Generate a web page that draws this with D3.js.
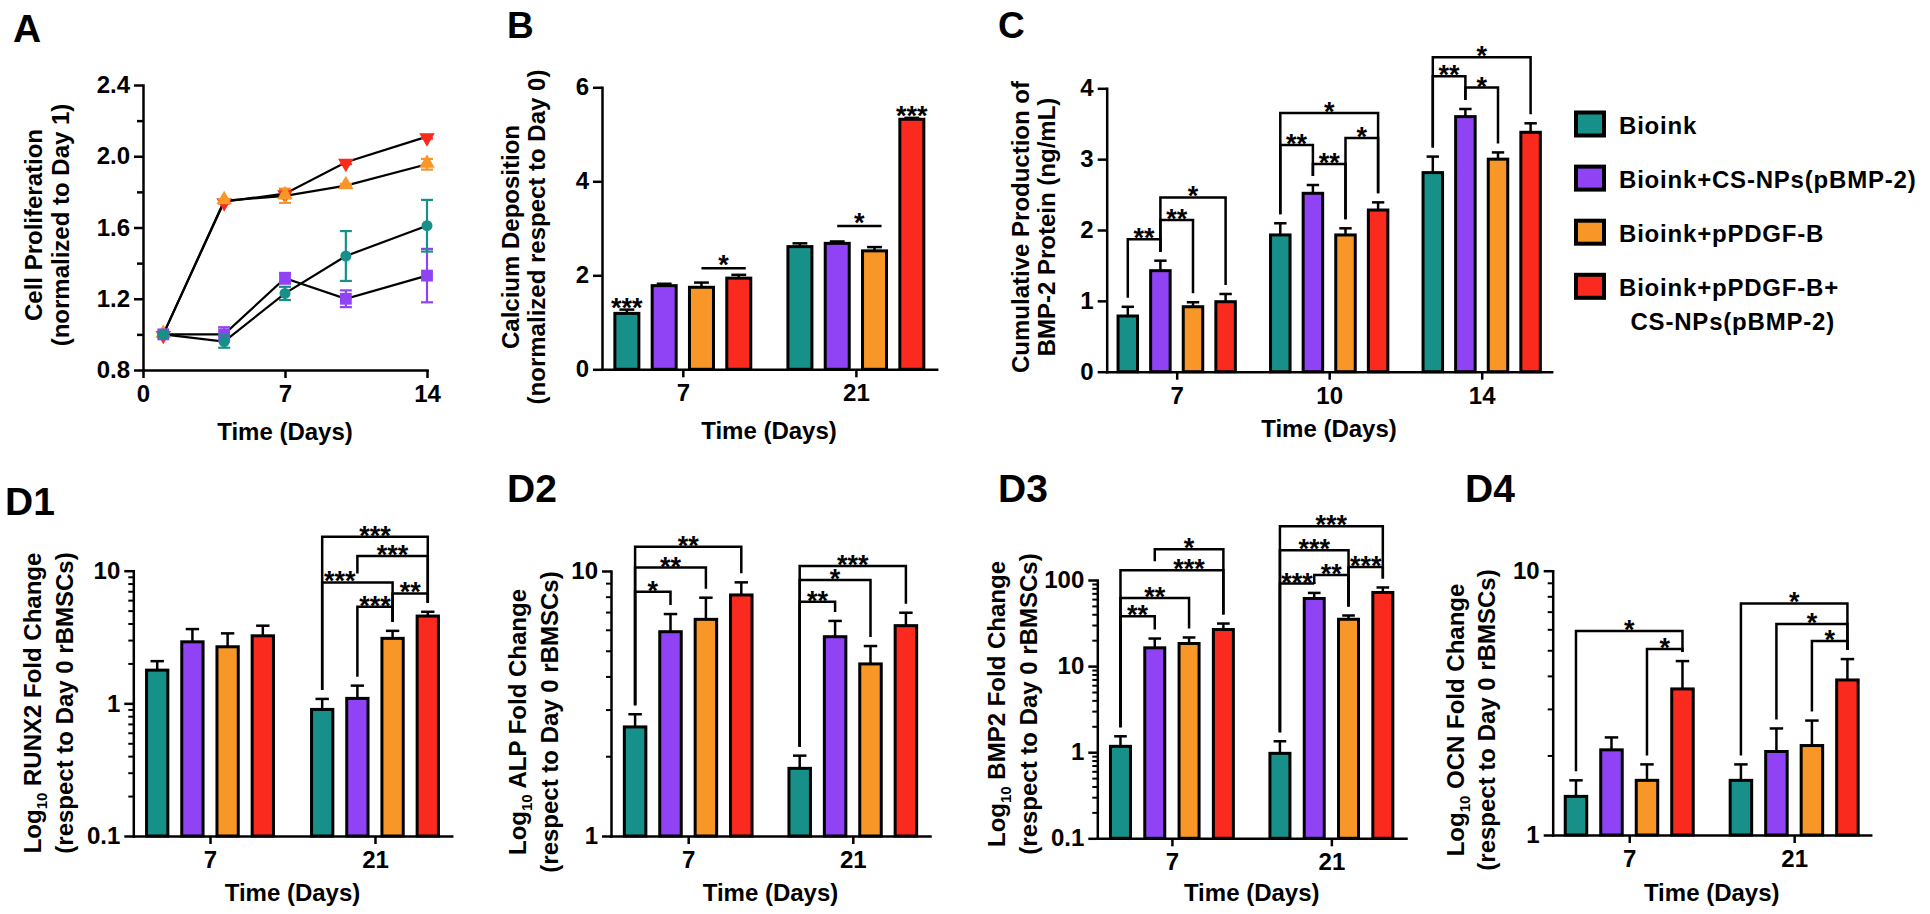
<!DOCTYPE html>
<html><head><meta charset="utf-8">
<script src="https://cdn.jsdelivr.net/npm/d3@7"></script>
<style>
body{margin:0;background:#fff;}
svg text{font-family:"Liberation Sans",Arial,Helvetica,sans-serif;font-weight:bold;fill:#000;}
</style></head><body>
<svg id="fig" width="1930" height="914"></svg>
<script>
// ---------------- DATA ----------------
const seriesNames = ["Bioink", "Bioink+CS-NPs(pBMP-2)", "Bioink+pPDGF-B", "Bioink+pPDGF-B+CS-NPs(pBMP-2)"];
const legendLines = [["Bioink"], ["Bioink+CS-NPs(pBMP-2)"], ["Bioink+pPDGF-B"], ["Bioink+pPDGF-B+", " CS-NPs(pBMP-2)"]];
const seriesColors = ["#179089", "#9043f5", "#f89628", "#fb2a1f"];

// Panel A: cell proliferation (series x day)
const aDays = [1, 4, 7, 10, 14];
const aMeans = [
  [1.00, 0.96, 1.23, 1.44, 1.61],
  [1.00, 1.00, 1.315, 1.20, 1.33],
  [1.00, 1.75, 1.778, 1.835, 1.955],
  [1.00, 1.745, 1.79, 1.966, 2.11]
];
const aErrs = [
  [0.01, 0.035, 0.037, 0.14, 0.145],
  [0.01, 0.04, 0.03, 0.047, 0.15],
  [0.01, 0.01, 0.04, 0.01, 0.03],
  [0.01, 0.01, 0.025, 0.01, 0.01]
];
const aYTicks = [0.8, 1.2, 1.6, 2.0, 2.4];
const aYMinor = [1.0, 1.4, 1.8, 2.2];
const aXTicks = [0, 7, 14];

// Panel B: calcium deposition
const bDays = ["7", "21"];
const bMeans = [[1.19, 2.61], [1.78, 2.68], [1.745, 2.52], [1.94, 5.32]];
const bErrs = [[0.08, 0.07], [0.04, 0.04], [0.10, 0.08], [0.07, 0.03]];
const bYTicks = [0, 2, 4, 6];
const bStars = [{g: 0, s: 0, label: "***"}, {g: 1, s: 3, label: "***"}];
const bLines = [{g: 0, i: 2, j: 3, y: 2.15, label: "*"}, {g: 1, i: 1, j: 2, y: 3.05, label: "*"}];

// Panel C: cumulative BMP-2 production
const cDays = ["7", "10", "14"];
const cMeans = [[0.786, 1.93, 2.81], [1.426, 2.518, 3.60], [0.917, 1.93, 3.00], [0.988, 2.282, 3.379]];
const cErrs = [[0.13, 0.165, 0.226], [0.141, 0.117, 0.108], [0.063, 0.094, 0.095], [0.109, 0.108, 0.127]];
const cYTicks = [0, 1, 2, 3, 4];
const cBrackets = [
  {g: 0, i: 0, j: 1, y: 1.87, label: "**"},
  {g: 0, i: 1, j: 2, y: 2.14, label: "**"},
  {g: 0, i: 1, j: 3, y: 2.46, label: "*"},
  {g: 1, i: 0, j: 1, y: 3.20, label: "**"},
  {g: 1, i: 1, j: 2, y: 2.93, label: "**"},
  {g: 1, i: 2, j: 3, y: 3.30, label: "*"},
  {g: 1, i: 0, j: 3, y: 3.65, label: "*"},
  {g: 2, i: 0, j: 1, y: 4.17, label: "**"},
  {g: 2, i: 1, j: 2, y: 4.01, label: "*"},
  {g: 2, i: 0, j: 3, y: 4.44, label: "*"}
];

// Panels D: gene expression fold change (log scale)
const dDays = ["7", "21"];
const d1Means = [[1.78, 0.90], [2.91, 1.09], [2.67, 3.09], [3.23, 4.55]];
const d1Errs = [[0.30, 0.18], [0.72, 0.27], [0.70, 0.43], [0.62, 0.35]];
const d1Brackets = [
  {g: 1, i: 0, j: 3, y: 18.0, label: "***"},
  {g: 1, i: 1, j: 3, y: 12.9, label: "***"},
  {g: 1, i: 0, j: 2, y: 8.16, label: "***", at: 0.5},
  {g: 1, i: 2, j: 3, y: 6.74, label: "**"},
  {g: 1, i: 1, j: 2, y: 5.35, label: "***"}
];
const d2Means = [[2.58, 1.80], [5.90, 5.65], [6.57, 4.46], [8.12, 6.22]];
const d2Errs = [[0.30, 0.21], [0.98, 0.83], [1.36, 0.75], [0.94, 0.74]];
const d2Brackets = [
  {g: 0, i: 0, j: 1, y: 8.35, label: "*"},
  {g: 0, i: 0, j: 2, y: 10.3, label: "**"},
  {g: 0, i: 0, j: 3, y: 12.35, label: "**"},
  {g: 1, i: 0, j: 1, y: 7.66, label: "**"},
  {g: 1, i: 0, j: 2, y: 9.25, label: "*"},
  {g: 1, i: 0, j: 3, y: 10.44, label: "***"}
];
const d3Means = [[1.17, 0.97], [16.3, 61.0], [18.3, 35.0], [26.6, 71.6]];
const d3Errs = [[0.36, 0.37], [4.6, 9.8], [3.2, 3.7], [4.6, 10.3]];
const d3Brackets = [
  {g: 0, i: 0, j: 1, y: 38, label: "**"},
  {g: 0, i: 0, j: 2, y: 62, label: "**"},
  {g: 0, i: 0, j: 3, y: 130, label: "***", at: 2},
  {g: 0, i: 1, j: 3, y: 228, label: "*"},
  {g: 1, i: 0, j: 3, y: 422, label: "***"},
  {g: 1, i: 0, j: 2, y: 222, label: "***"},
  {g: 1, i: 2, j: 3, y: 142, label: "***"},
  {g: 1, i: 1, j: 2, y: 114, label: "**"},
  {g: 1, i: 0, j: 1, y: 91, label: "***"}
];
const d4Means = [[1.40, 1.61], [2.10, 2.07], [1.61, 2.18], [3.57, 3.86]];
const d4Errs = [[0.21, 0.24], [0.24, 0.46], [0.24, 0.53], [0.98, 0.77]];
const d4Brackets = [
  {g: 0, i: 0, j: 3, y: 5.91, label: "*"},
  {g: 0, i: 2, j: 3, y: 5.06, label: "*"},
  {g: 1, i: 0, j: 3, y: 7.52, label: "*"},
  {g: 1, i: 1, j: 3, y: 6.29, label: "*"},
  {g: 1, i: 2, j: 3, y: 5.42, label: "*"}
];
const logTicks1 = [0.1, 1, 10];
const logTicks2 = [1, 10];
const logTicks3 = [0.1, 1, 10, 100];

// ---------------- DRAWING ----------------
const svg = d3.select("#fig");
const TICKFS = 24, TITLEFS = 24, STARFS = 27;

function minorsBetween(lo, hi) {
  const out = [];
  for (let dec = lo; dec < hi * 0.999; dec *= 10)
    for (let k = 2; k <= 9; k++) out.push(+(dec * k).toPrecision(3));
  return out;
}
function styleAxis(sel) {
  sel.attr("font-size", TICKFS).attr("font-family", null);
  sel.selectAll("path,line").attr("stroke", "#000").attr("stroke-width", 2.5);
  sel.select(".domain").attr("stroke-linecap", "square");
}
function panelLabel(t, x, y, fs) {
  svg.append("text").attr("x", x).attr("y", y).attr("font-size", fs).text(t);
}
function xTitle(cx, by) {
  svg.append("text").attr("x", cx).attr("y", by).attr("text-anchor", "middle").attr("font-size", TITLEFS).text("Time (Days)");
}
function yTitle(lines, bxs, cy) {
  lines.forEach((ln, k) => {
    const t = svg.append("text").attr("transform", `translate(${bxs[k]},${cy}) rotate(-90)`)
      .attr("text-anchor", "middle").attr("font-size", TITLEFS);
    if (typeof ln === "string") t.text(ln);
    else ln.forEach(p => t.append("tspan").attr("font-size", p.size || TITLEFS).attr("dy", p.dy || 0).text(p.t));
  });
}
function starText(sel) {
  return sel.attr("text-anchor", "middle").attr("font-size", STARFS);
}

// ---- Panel A ----
(function () {
  const x = d3.scaleLinear().domain([0, 14]).range([143, 427]);
  const y = d3.scaleLinear().domain([0.8, 2.4]).range([370, 85]);
  const g = svg.append("g");
  const line = d3.line().x((d, i) => x(aDays[i])).y(d => y(d));
  g.selectAll("path.ser").data(aMeans).join("path").attr("class", "ser")
    .attr("d", line).attr("fill", "none").attr("stroke", "#000").attr("stroke-width", 2.2);
  const symbols = [
    d3.symbol().type(d3.symbolCircle).size(95),
    d3.symbol().type(d3.symbolSquare).size(140),
    d3.symbol().type(d3.symbolTriangle).size(105),
    d3.symbol().type(d3.symbolTriangle).size(105)
  ];
  [3, 2, 1, 0].forEach(s => {
    const pts = aDays.map((d, i) => ({d, v: aMeans[s][i], e: aErrs[s][i]}));
    const gs = g.append("g").attr("stroke", seriesColors[s]).attr("stroke-width", 2.2);
    gs.selectAll("line.v").data(pts).join("line").attr("class", "v")
      .attr("x1", p => x(p.d)).attr("x2", p => x(p.d)).attr("y1", p => y(p.v - p.e)).attr("y2", p => y(p.v + p.e));
    gs.selectAll("line.t").data(pts).join("line").attr("class", "t")
      .attr("x1", p => x(p.d) - 6).attr("x2", p => x(p.d) + 6).attr("y1", p => y(p.v + p.e)).attr("y2", p => y(p.v + p.e));
    gs.selectAll("line.b").data(pts).join("line").attr("class", "b")
      .attr("x1", p => x(p.d) - 6).attr("x2", p => x(p.d) + 6).attr("y1", p => y(p.v - p.e)).attr("y2", p => y(p.v - p.e));
    g.selectAll(null).data(pts).join("path")
      .attr("d", symbols[s]).attr("fill", seriesColors[s])
      .attr("transform", p => `translate(${x(p.d)},${y(p.v) + (s === 3 ? 1 : s === 2 ? -1 : 0)})` + (s === 3 ? " rotate(180)" : ""));
  });
  const ya = g.append("g").attr("transform", "translate(143,0)")
    .call(d3.axisLeft(y).tickValues(aYTicks).tickFormat(d3.format(".1f")).tickSize(9).tickSizeOuter(0).tickPadding(4));
  styleAxis(ya);
  const ym = g.append("g").attr("transform", "translate(143,0)")
    .call(d3.axisLeft(y).tickValues(aYMinor).tickFormat("").tickSize(6));
  ym.select(".domain").remove(); styleAxis(ym);
  const xa = g.append("g").attr("transform", "translate(0,370)")
    .call(d3.axisBottom(x).tickValues(aXTicks).tickSize(8).tickSizeOuter(0).tickPadding(7));
  styleAxis(xa);
  panelLabel("A", 13, 42, 39);
  xTitle(285, 440);
  yTitle(["Cell Proliferation", "(normalized to Day 1)"], [42, 69], 225);
})();

// ---- generic bar panel ----
function barPanel(p) {
  const y = (p.log ? d3.scaleLog() : d3.scaleLinear()).domain(p.domain).range([p.yBottom, p.yTop]);
  const x = d3.scalePoint().domain(p.days).range([p.xLeft, p.xRight]).padding(p.pad);
  const bx = (s, gi) => x(p.days[gi]) + (s - 1.5) * p.step;
  const g = svg.append("g");
  const rows = [];
  p.days.forEach((d, gi) => p.means.forEach((m, s) => rows.push({s, gi, v: m[gi], e: p.errs[s][gi]})));
  const cap = p.barW * 0.55;
  const eg = g.append("g").attr("stroke", "#000").attr("stroke-width", 2.5);
  eg.selectAll("line.v").data(rows).join("line").attr("class", "v")
    .attr("x1", r => bx(r.s, r.gi)).attr("x2", r => bx(r.s, r.gi)).attr("y1", r => y(r.v)).attr("y2", r => y(r.v + r.e));
  eg.selectAll("line.c").data(rows).join("line").attr("class", "c")
    .attr("x1", r => bx(r.s, r.gi) - cap / 2).attr("x2", r => bx(r.s, r.gi) + cap / 2)
    .attr("y1", r => y(r.v + r.e)).attr("y2", r => y(r.v + r.e));
  g.selectAll("rect").data(rows).join("rect")
    .attr("x", r => bx(r.s, r.gi) - (p.barW - 3) / 2).attr("width", p.barW - 3)
    .attr("y", r => y(r.v)).attr("height", r => p.yBottom - y(r.v))
    .attr("fill", r => seriesColors[r.s]).attr("stroke", "#000").attr("stroke-width", 3);
  // axes
  const ya = g.append("g").attr("transform", `translate(${p.xLeft},0)`)
    .call(d3.axisLeft(y).tickValues(p.ticks).tickFormat(p.fmt).tickSize(9).tickSizeOuter(0).tickPadding(4));
  styleAxis(ya);
  if (p.minor) {
    const ym = g.append("g").attr("transform", `translate(${p.xLeft},0)`)
      .call(d3.axisLeft(y).tickValues(p.minor).tickFormat("").tickSize(5));
    ym.select(".domain").remove(); styleAxis(ym);
    ym.selectAll("line").attr("stroke-width", 2);
  }
  const xa = g.append("g").attr("transform", `translate(0,${p.yBottom})`)
    .call(d3.axisBottom(x).tickSize(8).tickSizeOuter(0).tickPadding(7));
  styleAxis(xa);
  // brackets
  const gap = 9;
  const items = (p.brackets || []).map(b => Object.assign({}, b, {yl: y(b.y)}));
  const legEnd = (b, k) => {
    let end = y(p.means[k][b.g] + p.errs[k][b.g]) - gap;
    items.forEach(o => {
      if (o !== b && o.g === b.g && o.yl > b.yl && k > o.i && k < o.j) end = Math.min(end, o.yl - gap);
    });
    return Math.max(end, b.yl);
  };
  const bg = g.append("g");
  bg.selectAll("path").data(items).join("path")
    .attr("d", b => `M${bx(b.i, b.g)},${legEnd(b, b.i)}V${b.yl}H${bx(b.j, b.g)}V${legEnd(b, b.j)}`)
    .attr("fill", "none").attr("stroke", "#000").attr("stroke-width", 2.5);
  starText(bg.selectAll("text").data(items).join("text"))
    .attr("x", b => b.at != null ? bx(b.at, b.g) : (bx(b.i, b.g) + bx(b.j, b.g)) / 2)
    .attr("y", b => b.yl + 8).text(b => b.label);
  // simple lines (panel B)
  (p.lines || []).forEach(l => {
    const yl = y(l.y);
    g.append("line").attr("x1", bx(l.i, l.g)).attr("x2", bx(l.j, l.g) + 7).attr("y1", yl).attr("y2", yl)
      .attr("stroke", "#000").attr("stroke-width", 2.5);
    starText(g.append("text")).attr("x", (bx(l.i, l.g) + bx(l.j, l.g) + 7) / 2).attr("y", yl + 6).text(l.label);
  });
  (p.stars || []).forEach(st => {
    const top = y(p.means[st.s][st.g] + p.errs[st.s][st.g]);
    starText(g.append("text")).attr("x", bx(st.s, st.g)).attr("y", top + 7).text(st.label);
  });
}

barPanel({xLeft: 602, xRight: 936.7, yBottom: 369.3, yTop: 87.3, domain: [0, 6], log: false,
  ticks: bYTicks, fmt: d3.format("d"), days: bDays, means: bMeans, errs: bErrs,
  pad: 0.467, step: 37.3, barW: 27, stars: bStars, lines: bLines});
panelLabel("B", 507, 38, 37);
xTitle(769, 439);
yTitle(["Calcium Deposition", "(normalized respect to Day 0)"], [518.7, 545.3], 237);

barPanel({xLeft: 1106.7, xRight: 1551.7, yBottom: 371.7, yTop: 88.3, domain: [0, 4], log: false,
  ticks: cYTicks, fmt: d3.format("d"), days: cDays, means: cMeans, errs: cErrs,
  pad: 0.459, step: 32.6, barW: 22.5, brackets: cBrackets});
panelLabel("C", 998, 38, 37);
xTitle(1329, 437);
yTitle(["Cumulative Production of", "BMP-2 Protein (ng/mL)"], [1028.7, 1055], 227);

const logFmt = d => String(d);
barPanel({xLeft: 133.3, xRight: 451.7, yBottom: 836, yTop: 570.7, domain: [0.1, 10], log: true,
  ticks: logTicks1, minor: minorsBetween(0.1, 10), fmt: logFmt, days: dDays, means: d1Means, errs: d1Errs,
  pad: 0.465, step: 35.2, barW: 24.3, brackets: d1Brackets});
panelLabel("D1", 5, 515, 39);
xTitle(292.5, 901);
yTitle([[{t: "Log"}, {t: "10", size: 15, dy: 6}, {t: " RUNX2 Fold Change", dy: -6}], "(respect to Day 0 rBMSCs)"], [40.5, 72.5], 703);

barPanel({xLeft: 611, xRight: 930, yBottom: 836, yTop: 571, domain: [1, 10], log: true,
  ticks: logTicks2, minor: minorsBetween(1, 10), fmt: logFmt, days: dDays, means: d2Means, errs: d2Errs,
  pad: 0.469, step: 35.4, barW: 24.5, brackets: d2Brackets});
panelLabel("D2", 507, 502, 39);
xTitle(770.5, 901);
yTitle([[{t: "Log"}, {t: "10", size: 15, dy: 6}, {t: " ALP Fold Change", dy: -6}], "(respect to Day 0 rBMSCs)"], [525.5, 557.5], 722);

barPanel({xLeft: 1097.3, xRight: 1406, yBottom: 838.3, yTop: 580, domain: [0.1, 100], log: true,
  ticks: logTicks3, minor: minorsBetween(0.1, 100), fmt: logFmt, days: dDays, means: d3Means, errs: d3Errs,
  pad: 0.468, step: 34.3, barW: 23, brackets: d3Brackets});
panelLabel("D3", 998, 502, 39);
xTitle(1251.7, 901);
yTitle([[{t: "Log"}, {t: "10", size: 15, dy: 6}, {t: " BMP2 Fold Change", dy: -6}], "(respect to Day 0 rBMSCs)"], [1005.3, 1037], 704);

barPanel({xLeft: 1552.7, xRight: 1870.7, yBottom: 835, yTop: 570.7, domain: [1, 10], log: true,
  ticks: logTicks2, minor: minorsBetween(1, 10), fmt: logFmt, days: dDays, means: d4Means, errs: d4Errs,
  pad: 0.464, step: 35.5, barW: 24.5, brackets: d4Brackets});
panelLabel("D4", 1465, 502, 39);
xTitle(1711.7, 901);
yTitle([[{t: "Log"}, {t: "10", size: 15, dy: 6}, {t: " OCN Fold Change", dy: -6}], "(respect to Day 0 rBMSCs)"], [1463.7, 1495.3], 720);

// ---- Legend ----
(function () {
  const lg = svg.append("g");
  const cy = i => 124 + i * 54.1;
  lg.selectAll("rect").data(seriesNames).join("rect")
    .attr("x", 1576).attr("y", (d, i) => cy(i) - 11.5).attr("width", 28).attr("height", 23)
    .attr("fill", (d, i) => seriesColors[i]).attr("stroke", "#000").attr("stroke-width", 4);
  legendLines.forEach((lines, i) => {
    lines.forEach((t, k) => {
      lg.append("text").attr("x", 1619 + (k ? 4 : 0)).attr("y", cy(i) + 10 + k * 33.5)
        .attr("font-size", 24).attr("letter-spacing", 0.8).style("white-space", "pre").text(t);
    });
  });
})();
</script>
</body></html>
